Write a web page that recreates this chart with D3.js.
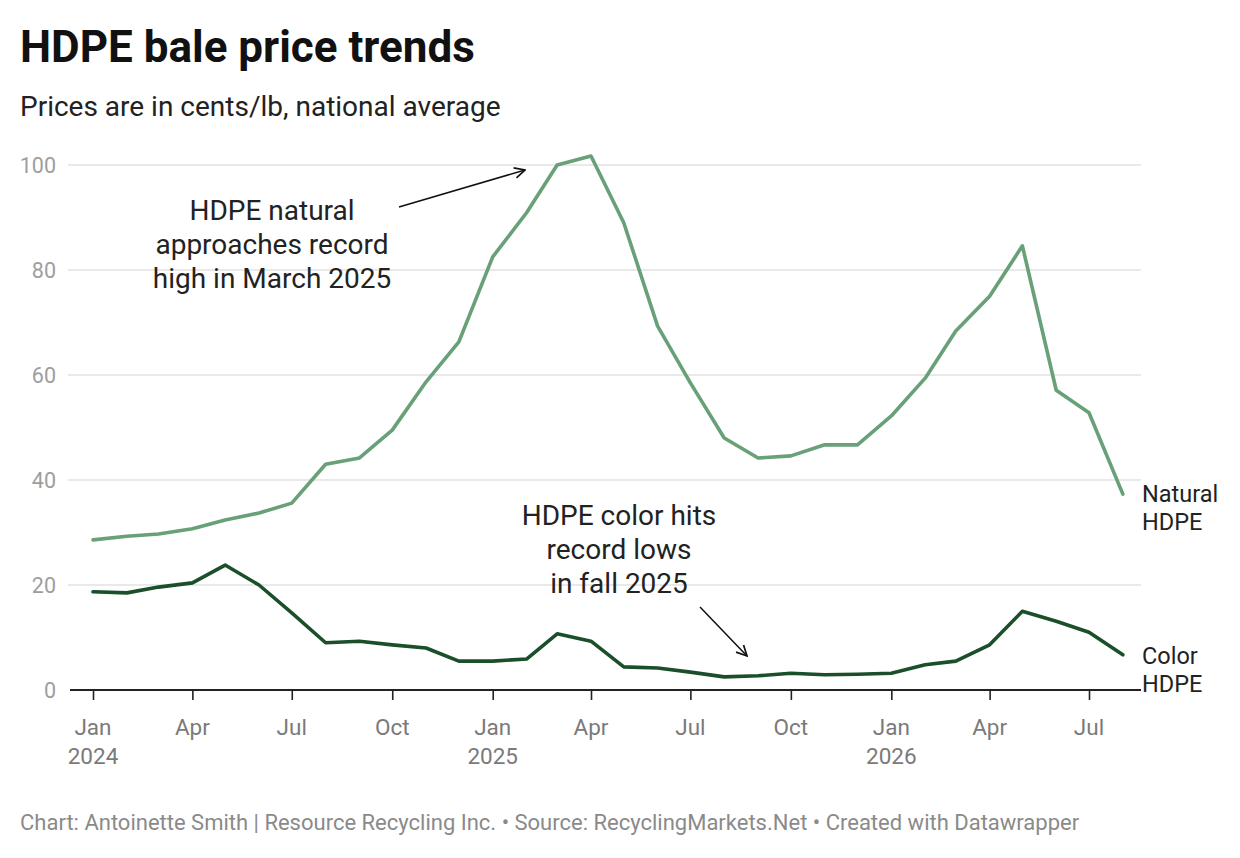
<!DOCTYPE html>
<html><head><meta charset="utf-8">
<script src="https://cdn.jsdelivr.net/npm/d3@7"></script>
<style>
body{margin:0;background:#fff;font-family:Roboto,"Noto Sans",sans-serif;}
</style></head><body>
<svg id="c" width="1240" height="858"></svg>
<script>
const months = ["2024-01","2024-02","2024-03","2024-04","2024-05","2024-06","2024-07","2024-08","2024-09","2024-10","2024-11","2024-12",
"2025-01","2025-02","2025-03","2025-04","2025-05","2025-06","2025-07","2025-08","2025-09","2025-10","2025-11","2025-12",
"2026-01","2026-02","2026-03","2026-04","2026-05","2026-06","2026-07","2026-08"];
const naturalHDPE = [28.6,29.3,29.7,30.7,32.4,33.7,35.6,43.0,44.2,49.5,58.7,66.3,
82.5,90.9,100.0,101.7,89.0,69.3,58.5,48.0,44.2,44.6,46.7,46.7,
52.2,59.4,68.4,75.0,84.6,57.1,52.8,37.3];
const colorHDPE = [18.7,18.5,19.6,20.4,23.8,20.0,14.7,9.0,9.3,8.6,8.0,5.5,
5.5,5.9,10.7,9.3,4.4,4.2,3.4,2.5,2.7,3.2,2.9,3.0,
3.2,4.8,5.5,8.6,15.0,13.1,11.0,6.7];
const yTicks = [0,20,40,60,80,100];
const xTickMonths = ["2024-01","2024-04","2024-07","2024-10","2025-01","2025-04","2025-07","2025-10","2026-01","2026-04","2026-07"];
const monthNames = ["Jan","Feb","Mar","Apr","May","Jun","Jul","Aug","Sep","Oct","Nov","Dec"];

const parse = d3.timeParse("%Y-%m");
const dates = months.map(parse);
const svg = d3.select("#c");

const x = d3.scaleTime().domain([parse("2024-01"), parse("2026-07")]).range([93, 1089]);
const y = d3.scaleLinear().domain([0,100]).range([690,165]);

// title
svg.append("text").attr("x",20).attr("y",62).attr("font-size",44).attr("font-weight",700).attr("fill","#111").text("HDPE bale price trends");
svg.append("text").attr("x",20).attr("y",116).attr("font-size",28).attr("fill","#222").text("Prices are in cents/lb, national average");

// grid
const g = svg.append("g");
g.selectAll(".grid").data(yTicks.filter(d=>d>0)).enter().append("line")
 .attr("x1",68).attr("x2",1141).attr("y1",d=>y(d)).attr("y2",d=>y(d))
 .attr("stroke","#e2e2e2").attr("stroke-width",1.4);
g.selectAll(".yl").data(yTicks).enter().append("text")
 .attr("x",56).attr("y",d=>y(d)+8).attr("text-anchor","end").attr("font-size",21.5).attr("fill","#9e9e9e").text(d=>d);

// x axis
const xAxis = d3.axisBottom(x).tickValues(xTickMonths.map(parse)).tickSize(10).tickFormat("");
const ax = svg.append("g").attr("transform","translate(0,690)").call(xAxis);
ax.select(".domain").remove();
ax.selectAll(".tick line").attr("stroke","#222").attr("stroke-width",1.6);
svg.append("line").attr("x1",70).attr("x2",1141).attr("y1",690).attr("y2",690).attr("stroke","#222").attr("stroke-width",1.8);
xTickMonths.forEach(m=>{
  const d = parse(m);
  const t = svg.append("text").attr("x",x(d)).attr("y",735).attr("text-anchor","middle").attr("font-size",22.5).attr("fill","#7a7a7a");
  t.append("tspan").attr("x",x(d)).text(monthNames[d.getMonth()]);
  if(d.getMonth()===0) t.append("tspan").attr("x",x(d)).attr("dy",29).text(d.getFullYear());
});

// lines
const line = d3.line().x((d,i)=>x(dates[i])).y(d=>y(d));
svg.append("path").datum(naturalHDPE).attr("d",line).attr("fill","none").attr("stroke","#68a077").attr("stroke-width",3.6).attr("stroke-linejoin","round").attr("stroke-linecap","round");
svg.append("path").datum(colorHDPE).attr("d",line).attr("fill","none").attr("stroke","#1a4f2a").attr("stroke-width",3.6).attr("stroke-linejoin","round").attr("stroke-linecap","round");

// end labels
function multi(xp,yp,lines,anchor,size,lh){
  const t = svg.append("text").attr("x",xp).attr("y",yp).attr("text-anchor",anchor).attr("font-size",size).attr("fill","#222");
  lines.forEach((l,i)=>t.append("tspan").attr("x",xp).attr("dy",i?lh:0).text(l));
}
multi(1142,502,["Natural","HDPE"],"start",23.5,28);
multi(1142,664,["Color","HDPE"],"start",23.5,28);

// annotations
multi(272,220,["HDPE natural","approaches record","high in March 2025"],"middle",28,34);
multi(619,525,["HDPE color hits","record lows","in fall 2025"],"middle",28,34);

svg.append("defs").append("marker").attr("id","arr").attr("viewBox","0 0 10 10").attr("refX",9).attr("refY",5)
 .attr("markerWidth",13).attr("markerHeight",13).attr("markerUnits","userSpaceOnUse").attr("orient","auto")
 .append("path").attr("d","M1,1 L9,5 L1,9").attr("fill","none").attr("stroke","#111").attr("stroke-width",1.3);
svg.append("line").attr("x1",399).attr("y1",207).attr("x2",525).attr("y2",170).attr("stroke","#111").attr("stroke-width",1.5).attr("marker-end","url(#arr)");
svg.append("line").attr("x1",700).attr("y1",607).attr("x2",747).attr("y2",656).attr("stroke","#111").attr("stroke-width",1.5).attr("marker-end","url(#arr)");

// footer
svg.append("text").attr("x",20).attr("y",830).attr("font-size",22).attr("fill","#8a8a8a")
 .text("Chart: Antoinette Smith | Resource Recycling Inc. • Source: RecyclingMarkets.Net • Created with Datawrapper");
</script></body></html>
